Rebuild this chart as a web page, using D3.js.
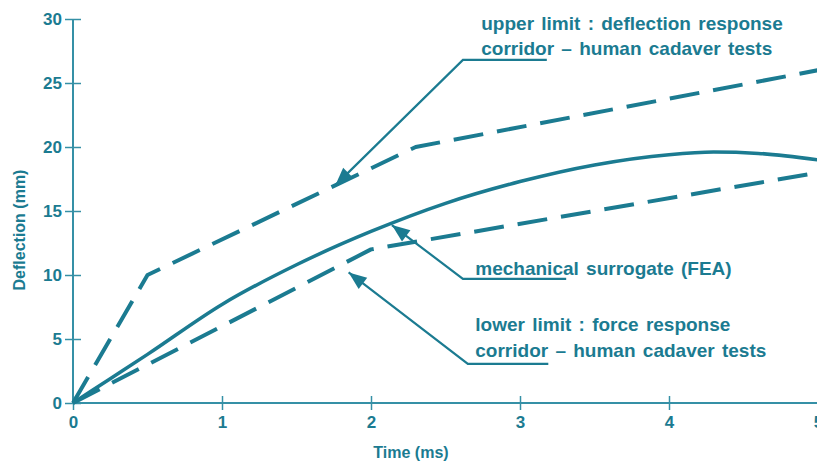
<!DOCTYPE html>
<html>
<head>
<meta charset="utf-8">
<script src="https://cdn.jsdelivr.net/npm/d3@7/dist/d3.min.js"></script>
<style>
  html, body { margin: 0; padding: 0; background: #ffffff; }
  svg { display: block; font-family: "Liberation Sans", Arial, sans-serif; }
</style>
</head>
<body>
<svg id="chart" width="817" height="464"></svg>
<script>
// ---- data (time in ms, deflection in mm) ----
const xTicks = [0, 1, 2, 3, 4, 5];
const yTicks = [0, 5, 10, 15, 20, 25, 30];

const upperTime = [0, 0.5, 2.3, 5];
const upperDefl = [0, 10, 20, 26];

const lowerTime = [0, 2, 5];
const lowerDefl = [0, 12, 18];

const femTime = [0, 0.25, 0.5, 1, 1.5, 2, 2.5, 3, 3.5, 4, 4.3, 4.6, 5];
const femDefl = [0, 1.9, 3.8, 7.7, 10.8, 13.4, 15.6, 17.3, 18.6, 19.4, 19.6, 19.5, 19.0];

// annotations: [tipT, tipD, elbowT, elbowD, endT]
const annoUpperLeader = [1.76, 17.0, 2.617, 26.8, 3.18];
const annoFemLeader   = [2.14, 13.9, 2.617, 9.7, 3.31];
const annoLowerLeader = [1.85, 10.2, 2.65, 3.05, 3.19];

const annoUpperText = ["upper limit : deflection response", "corridor \u2013 human cadaver tests"];
const annoFemText   = ["mechanical surrogate (FEA)"];
const annoLowerText = ["lower limit : force response", "corridor \u2013 human cadaver tests"];
// text anchor positions [t, d of first baseline, d step between lines]
const annoUpperPos = [2.74, 29.15, 2.0];
const annoFemPos   = [2.70, 10.0, 2.0];
const annoLowerPos = [2.70, 5.6, 2.0];

const xLabel = "Time (ms)";
const yLabel = "Deflection (mm)";

// ---- drawing ----
const COLOR = "#1b7b91";
const AXIS = "#3590a6";
const svg = d3.select("#chart");

const x = d3.scaleLinear().domain([0, 5]).range([73, 818]);
const y = d3.scaleLinear().domain([0, 30]).range([403, 19]);

// axes
const xAxis = d3.axisBottom(x).tickValues(xTicks).tickSize(0).tickPadding(0).tickFormat(d3.format("d"));
const gx = svg.append("g").attr("transform", `translate(0,${y(0)})`).call(xAxis);
gx.select(".domain").remove();
gx.append("line").attr("x1", x(0)).attr("x2", 817).attr("stroke", AXIS).attr("stroke-width", 2);
gx.selectAll(".tick").append("line").attr("y1", -7).attr("y2", 7).attr("stroke", AXIS).attr("stroke-width", 1.5);
gx.selectAll(".tick text").attr("y", 25).attr("dy", 0).attr("fill", COLOR)
  .style("font-size", "17px").style("font-weight", "bold");

const yAxis = d3.axisLeft(y).tickValues(yTicks).tickSize(0).tickPadding(0).tickFormat(d3.format("d"));
const gy = svg.append("g").attr("transform", `translate(${x(0)},0)`).call(yAxis);
gy.select(".domain").remove();
gy.append("line").attr("y1", y(30)).attr("y2", y(0)).attr("stroke", AXIS).attr("stroke-width", 2);
gy.selectAll(".tick").append("line").attr("x1", -8).attr("x2", 8).attr("stroke", AXIS).attr("stroke-width", 1.5);
gy.selectAll(".tick text").attr("x", -11).attr("dy", "0.35em").attr("fill", COLOR)
  .style("font-size", "17px").style("font-weight", "bold");
svg.selectAll("g").attr("font-family", null).attr("font-size", null);

// axis titles
svg.append("text").attr("x", 411).attr("y", 458)
  .attr("text-anchor", "middle").attr("fill", COLOR)
  .style("font-size", "16px").style("font-weight", "bold").text(xLabel);
svg.append("text").attr("transform", `translate(25,${(y(30) + y(0)) / 2 + 19}) rotate(-90)`)
  .attr("text-anchor", "middle").attr("fill", COLOR)
  .style("font-size", "16px").style("font-weight", "bold").text(yLabel);

// curves
const line = d3.line().x(d => x(d[0])).y(d => y(d[1]));
const zip = (a, b) => a.map((v, i) => [v, b[i]]);

svg.append("path").datum(zip(upperTime, upperDefl))
  .attr("d", line.curve(d3.curveLinear)).attr("fill", "none").attr("stroke", COLOR)
  .attr("stroke-width", 4).attr("stroke-dasharray", "30,14").attr("stroke-linejoin", "round");
svg.append("path").datum(zip(lowerTime, lowerDefl))
  .attr("d", line.curve(d3.curveLinear)).attr("fill", "none").attr("stroke", COLOR)
  .attr("stroke-width", 4).attr("stroke-dasharray", "30,14").attr("stroke-linejoin", "round");
svg.append("path").datum(zip(femTime, femDefl))
  .attr("d", d3.line().x(d => x(d[0])).y(d => y(d[1])).curve(d3.curveMonotoneX))
  .attr("fill", "none").attr("stroke", COLOR).attr("stroke-width", 3.5);

// annotation leaders with arrowheads
function leader(a) {
  const [tt, td, et, ed, nt] = a;
  const tx = x(tt), ty = y(td), ex = x(et), ey = y(ed), nx = x(nt);
  svg.append("polyline").attr("points", `${nx},${ey} ${ex},${ey} ${tx},${ty}`)
    .attr("fill", "none").attr("stroke", COLOR).attr("stroke-width", 2.2);
  const ang = Math.atan2(ey - ty, ex - tx);
  const L = 18, W = 7;
  const bx = tx + L * Math.cos(ang), by = ty + L * Math.sin(ang);
  const px = -Math.sin(ang) * W, py = Math.cos(ang) * W;
  svg.append("polygon")
    .attr("points", `${tx},${ty} ${bx + px},${by + py} ${bx - px},${by - py}`)
    .attr("fill", COLOR);
}
leader(annoUpperLeader);
leader(annoFemLeader);
leader(annoLowerLeader);

function annoText(lines, pos) {
  const [t, d, step] = pos;
  lines.forEach((s, i) => {
    svg.append("text").attr("x", x(t)).attr("y", y(d - i * step))
      .attr("fill", COLOR).style("font-size", "19px").style("font-weight", "bold")
      .style("word-spacing", "2px").text(s);
  });
}
annoText(annoUpperText, annoUpperPos);
annoText(annoFemText, annoFemPos);
annoText(annoLowerText, annoLowerPos);
</script>
</body>
</html>
